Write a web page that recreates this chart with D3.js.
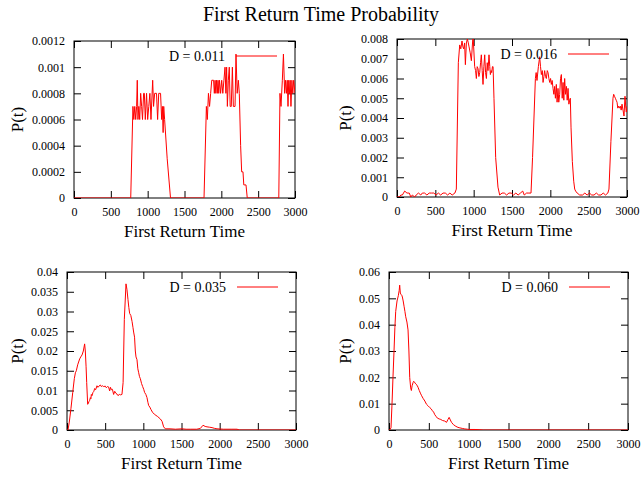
<!DOCTYPE html>
<html>
<head>
<meta charset="utf-8">
<script src="https://cdn.jsdelivr.net/npm/d3@7"></script>
<style>
  body { margin: 0; background: #fff; }
  svg text { font-family: "Liberation Serif", "Times New Roman", serif; fill: #000; }
</style>
</head>
<body>
<svg id="chart" width="642" height="479"></svg>
<script>
// ---- data ----
var xTicks = [0, 500, 1000, 1500, 2000, 2500, 3000];

var yTicks011 = [0, 0.0002, 0.0004, 0.0006, 0.0008, 0.001, 0.0012];
var yTicks016 = [0, 0.001, 0.002, 0.003, 0.004, 0.005, 0.006, 0.007, 0.008];
var yTicks035 = [0, 0.005, 0.01, 0.015, 0.02, 0.025, 0.03, 0.035, 0.04];
var yTicks060 = [0, 0.01, 0.02, 0.03, 0.04, 0.05, 0.06];

// [first return time, probability]
var p011 = [
  [0,0],[770,0],[800,0.0007],[812,0.0006],[825,0.0007],[838,0.0006],[850,0.0007],[859,0.0009],
  [868,0.0006],[880,0.0007],[892,0.0006],[905,0.0008],[918,0.0007],[930,0.0006],[945,0.0008],
  [955,0.0008],[968,0.0006],[985,0.0008],[1000,0.0006],[1015,0.0007],[1030,0.0008],[1045,0.0006],
  [1068,0.0009],[1080,0.0007],[1095,0.0008],[1120,0.0008],[1135,0.0006],[1150,0.0008],[1175,0.0008],
  [1190,0.0006],[1200,0.0007],[1210,0.0005],[1218,0.0007],[1230,0.0006],[1265,0.0003],[1310,0],
  [1765,0],[1797,0.0007],[1810,0.0006],[1825,0.0008],[1840,0.0007],[1855,0.0008],[1870,0.0009],
  [1895,0.0009],[1905,0.0008],[1915,0.0009],[1925,0.0008],[1935,0.0009],[1945,0.0008],[1955,0.0009],
  [1965,0.0008],[1975,0.0009],[1990,0.0008],[2005,0.0009],[2020,0.0008],[2035,0.0009],[2050,0.001],
  [2062,0.0008],[2072,0.001],[2082,0.0007],[2095,0.0009],[2108,0.001],[2120,0.0007],[2135,0.0007],
  [2150,0.001],[2163,0.0007],[2186,0.0007],[2199,0.0011],[2215,0.0008],[2231,0.0009],[2244,0.0008],
  [2262,0.0004],[2276,0.0002],[2294,0.0002],[2305,0.0001],[2335,0.0001],[2352,0],
  [2780,0],[2796,0.0008],[2810,0.0007],[2828,0.0009],[2843,0.0011],[2860,0.0008],[2872,0.0009],
  [2884,0.0008],[2895,0.0009],[2905,0.0007],[2915,0.0009],[2925,0.0008],[2935,0.0009],[2945,0.0007],
  [2958,0.0009],[2970,0.0008],[2982,0.0009],[3000,0.0008]
];

var p016 = [
  [0,0],[30,0],[50,0.0001],[70,0.0001],[85,0.0002],[100,0.0003],[130,0.0002],[160,0.0002],
  [180,0],[200,0.0001],[230,0],[250,0.0001],[280,0.0002],[310,0.0001],[330,0.0002],[360,0.0002],
  [390,0.0001],[420,0.0002],[450,0.0002],[480,0.0002],[510,0.0001],[540,0.0002],[570,0.0001],
  [600,0.0002],[630,0.0002],[660,0.0001],[690,0.0002],[720,0.0001],[755,0.0002],[774,0.0004],
  [800,0.0068],[818,0.0077],[832,0.0075],[848,0.0079],[860,0.0076],[870,0.0075],[882,0.0078],
  [892,0.0067],[905,0.0078],[918,0.008],[930,0.0078],[940,0.0076],[955,0.0073],[970,0.0069],
  [992,0.0082],[1013,0.0066],[1025,0.0064],[1035,0.006],[1046,0.0066],[1057,0.0065],[1068,0.0061],
  [1079,0.0063],[1090,0.0068],[1100,0.0072],[1111,0.0064],[1122,0.0057],[1133,0.0066],[1144,0.0072],
  [1155,0.0063],[1166,0.006],[1177,0.0068],[1187,0.0064],[1200,0.0072],[1210,0.0066],[1218,0.0062],
  [1228,0.0064],[1235,0.0063],[1245,0.0066],[1253,0.0066],[1265,0.005],[1287,0.002],[1317,0.0005],
  [1339,0.0001],[1370,0.0002],[1400,0.0002],[1430,0.0001],[1460,0.0002],[1490,0.0002],[1520,0.0001],
  [1550,0.0002],[1580,0.0001],[1610,0.0002],[1640,0.0003],[1660,0.0001],[1690,0.0002],[1720,0.0002],
  [1748,0.0002],[1768,0.002],[1805,0.006],[1815,0.0063],[1826,0.0059],[1844,0.0066],[1861,0.0071],
  [1872,0.0066],[1883,0.0062],[1895,0.0064],[1905,0.0058],[1916,0.0061],[1926,0.0064],[1937,0.0061],
  [1948,0.006],[1960,0.0064],[1970,0.0063],[1981,0.006],[1992,0.0058],[2003,0.006],[2013,0.0057],
  [2024,0.0059],[2035,0.0055],[2046,0.0052],[2056,0.0056],[2066,0.005],[2078,0.0057],[2088,0.0048],
  [2100,0.0055],[2110,0.0048],[2122,0.0052],[2133,0.006],[2144,0.0062],[2155,0.005],[2166,0.0058],
  [2176,0.0049],[2187,0.006],[2198,0.0052],[2210,0.0056],[2220,0.0049],[2231,0.0055],[2242,0.0047],
  [2252,0.0049],[2261,0.005],[2270,0.0035],[2287,0.0018],[2305,0.0008],[2318,0.0004],[2330,0.0003],
  [2350,0.0002],[2383,0.0001],[2420,0.0001],[2450,0.0002],[2480,0.0001],[2510,0.0002],[2540,0.0001],
  [2570,0.0001],[2600,0.0002],[2630,0.0001],[2660,0.0001],[2690,0.0002],[2720,0.0001],[2750,0.0002],
  [2765,0.0004],[2790,0.0028],[2817,0.005],[2826,0.0052],[2837,0.0051],[2848,0.005],[2859,0.0049],
  [2870,0.0048],[2880,0.0045],[2891,0.0046],[2902,0.0045],[2913,0.0046],[2924,0.0044],[2935,0.0047],
  [2948,0.0044],[2961,0.0041],[2974,0.0051],[2985,0.0045],[2991,0.0043],[3000,0.0046]
];

var p035 = [
  [0,0],[13,0],[30,0.002],[52,0.0055],[75,0.0095],[96,0.013],[110,0.0145],[122,0.015],[140,0.0165],
  [166,0.018],[180,0.0185],[197,0.019],[214,0.02],[231,0.0218],[240,0.02],[250,0.016],[258,0.012],
  [271,0.0065],[280,0.0068],[288,0.0072],[297,0.0075],[306,0.0082],[313,0.0079],[319,0.009],
  [328,0.0087],[340,0.0095],[352,0.0098],[362,0.0105],[375,0.0102],[393,0.0112],[405,0.0108],
  [418,0.0111],[437,0.0114],[450,0.011],[466,0.0112],[480,0.011],[502,0.0111],[515,0.0107],
  [530,0.011],[545,0.0109],[559,0.0099],[570,0.0108],[582,0.0102],[595,0.0103],[611,0.009],
  [625,0.0098],[640,0.0093],[655,0.0091],[668,0.0087],[685,0.009],[702,0.0089],[720,0.009],
  [735,0.012],[751,0.028],[773,0.037],[786,0.0355],[799,0.033],[810,0.031],[821,0.0295],
  [836,0.029],[852,0.0275],[864,0.026],[873,0.0248],[885,0.0235],[895,0.02],[904,0.0185],
  [917,0.0178],[928,0.0155],[939,0.0145],[950,0.0135],[961,0.013],[976,0.0118],[991,0.011],
  [1005,0.0103],[1017,0.0095],[1033,0.009],[1048,0.0082],[1060,0.007],[1070,0.0062],[1085,0.0058],
  [1100,0.0052],[1120,0.0045],[1144,0.004],[1165,0.0037],[1188,0.0034],[1205,0.0031],[1223,0.0028],
  [1245,0.0022],[1266,0.0008],[1288,0.0003],[1350,0.0003],[1420,0.0002],[1507,0.0003],[1560,0.0002],
  [1620,0.0002],[1700,0.0002],[1747,0.0004],[1782,0.0012],[1810,0.0009],[1834,0.0008],[1870,0.0007],
  [1900,0.0006],[1935,0.0004],[1965,0.0003],[2050,0.0002],[2150,0.0002],[2227,0.0002],[2260,0],
  [3000,0]
];

var p060 = [
  [0,0],[8,0],[25,0.0008],[38,0.01],[50,0.02],[63,0.03],[74,0.039],[84,0.045],[101,0.049],
  [117,0.051],[128,0.053],[134,0.055],[142,0.052],[151,0.0515],[160,0.0512],[168,0.0505],
  [178,0.049],[189,0.047],[200,0.045],[210,0.043],[225,0.041],[239,0.038],[250,0.03],[260,0.02],
  [272,0.016],[281,0.015],[290,0.0168],[302,0.018],[310,0.0185],[319,0.0182],[335,0.0175],
  [352,0.017],[365,0.0162],[380,0.015],[394,0.014],[410,0.013],[428,0.012],[450,0.011],[470,0.0098],
  [490,0.0092],[512,0.0085],[530,0.008],[545,0.0073],[560,0.0068],[575,0.0058],[590,0.0052],
  [608,0.0045],[630,0.0042],[650,0.004],[672,0.0036],[700,0.0034],[722,0.0029],[740,0.004],
  [755,0.0048],[770,0.0038],[785,0.0029],[810,0.002],[839,0.0014],[865,0.001],[890,0.0008],
  [920,0.0006],[952,0.0004],[985,0.0003],[1015,0.0002],[1080,0.0002],[1141,0.0001],[1183,0],
  [3000,0]
];

var labels = ["D = 0.011", "D = 0.016", "D = 0.035", "D = 0.060"];
var series = [p011, p016, p035, p060];
var yTickSets = [yTicks011, yTicks016, yTicks035, yTicks060];

// ---- layout ----
var boxes = [
  {left: 74,  right: 295, top: 41,  bottom: 198},
  {left: 397, right: 627, top: 39,  bottom: 197},
  {left: 67,  right: 296, top: 272, bottom: 430},
  {left: 389, right: 628, top: 272, bottom: 430}
];
var yLabelX = [17, 345, 17, 345];
var tickLen = 7;
var lineColor = '#ff0000';
var serif = '"Liberation Serif", "Times New Roman", serif';

var svg = d3.select('#chart');

svg.append('text')
  .attr('x', 321)
  .attr('y', 21)
  .attr('text-anchor', 'middle')
  .attr('font-size', 20)
  .text('First Return Time Probability');

var fmt = function(v) { return v === 0 ? '0' : String(+v.toFixed(4)); };

series.forEach(function(data, i) {
  var b = boxes[i];
  var yTicks = yTickSets[i];
  var yMax = yTicks[yTicks.length - 1];

  var x = d3.scaleLinear().domain([0, 3000]).range([b.left, b.right]);
  var y = d3.scaleLinear().domain([0, yMax]).range([b.bottom, b.top]);

  var g = svg.append('g').attr('class', 'panel panel' + i);

  // frame
  g.append('rect')
    .attr('x', b.left).attr('y', b.top)
    .attr('width', b.right - b.left).attr('height', b.bottom - b.top)
    .attr('fill', 'none').attr('stroke', '#000').attr('stroke-width', 1);

  // ticks on all four sides, pointing in (gnuplot mirror style)
  var bottomAxis = g.append('g')
    .attr('transform', 'translate(0,' + b.bottom + ')')
    .call(d3.axisBottom(x).tickValues(xTicks).tickSize(-tickLen).tickPadding(9).tickFormat(d3.format('d')));
  g.append('g')
    .attr('transform', 'translate(0,' + b.top + ')')
    .call(d3.axisTop(x).tickValues(xTicks).tickSize(-tickLen).tickFormat(''));
  var leftAxis = g.append('g')
    .attr('transform', 'translate(' + b.left + ',0)')
    .call(d3.axisLeft(y).tickValues(yTicks).tickSize(-tickLen).tickPadding(9).tickFormat(fmt));
  g.append('g')
    .attr('transform', 'translate(' + b.right + ',0)')
    .call(d3.axisRight(y).tickValues(yTicks).tickSize(-tickLen).tickFormat(''));

  g.selectAll('.domain').remove();
  g.selectAll('.tick line').attr('stroke', '#000');
  bottomAxis.attr('font-family', serif).attr('font-size', 12);
  leftAxis.attr('font-family', serif).attr('font-size', 12);

  // axis titles
  g.append('text')
    .attr('x', (b.left + b.right) / 2)
    .attr('y', b.bottom + 39)
    .attr('text-anchor', 'middle')
    .attr('font-size', 17)
    .text('First Return Time');

  g.append('text')
    .attr('transform', 'translate(' + yLabelX[i] + ',' + ((b.top + b.bottom) / 2) + ') rotate(-90)')
    .attr('text-anchor', 'middle')
    .attr('dy', '0.35em')
    .attr('font-size', 17)
    .text('P(t)');

  // data line, clipped to the plot box
  g.append('clipPath').attr('id', 'clip' + i)
    .append('rect')
    .attr('x', b.left).attr('y', b.top)
    .attr('width', b.right - b.left).attr('height', b.bottom - b.top);

  g.append('path')
    .datum(data)
    .attr('clip-path', 'url(#clip' + i + ')')
    .attr('fill', 'none')
    .attr('stroke', lineColor)
    .attr('stroke-width', 1)
    .attr('d', d3.line()
      .x(function(d) { return x(d[0]); })
      .y(function(d) { return y(d[1]); }));

  // legend
  var ly = b.top + 15;
  g.append('text')
    .attr('x', b.right - 70)
    .attr('y', ly)
    .attr('dy', '0.35em')
    .attr('text-anchor', 'end')
    .attr('font-size', 14)
    .text(labels[i]);
  g.append('line')
    .attr('x1', b.right - 59).attr('x2', b.right - 18)
    .attr('y1', ly).attr('y2', ly)
    .attr('stroke', lineColor)
    .attr('stroke-width', 1);
});
</script>
</body>
</html>
